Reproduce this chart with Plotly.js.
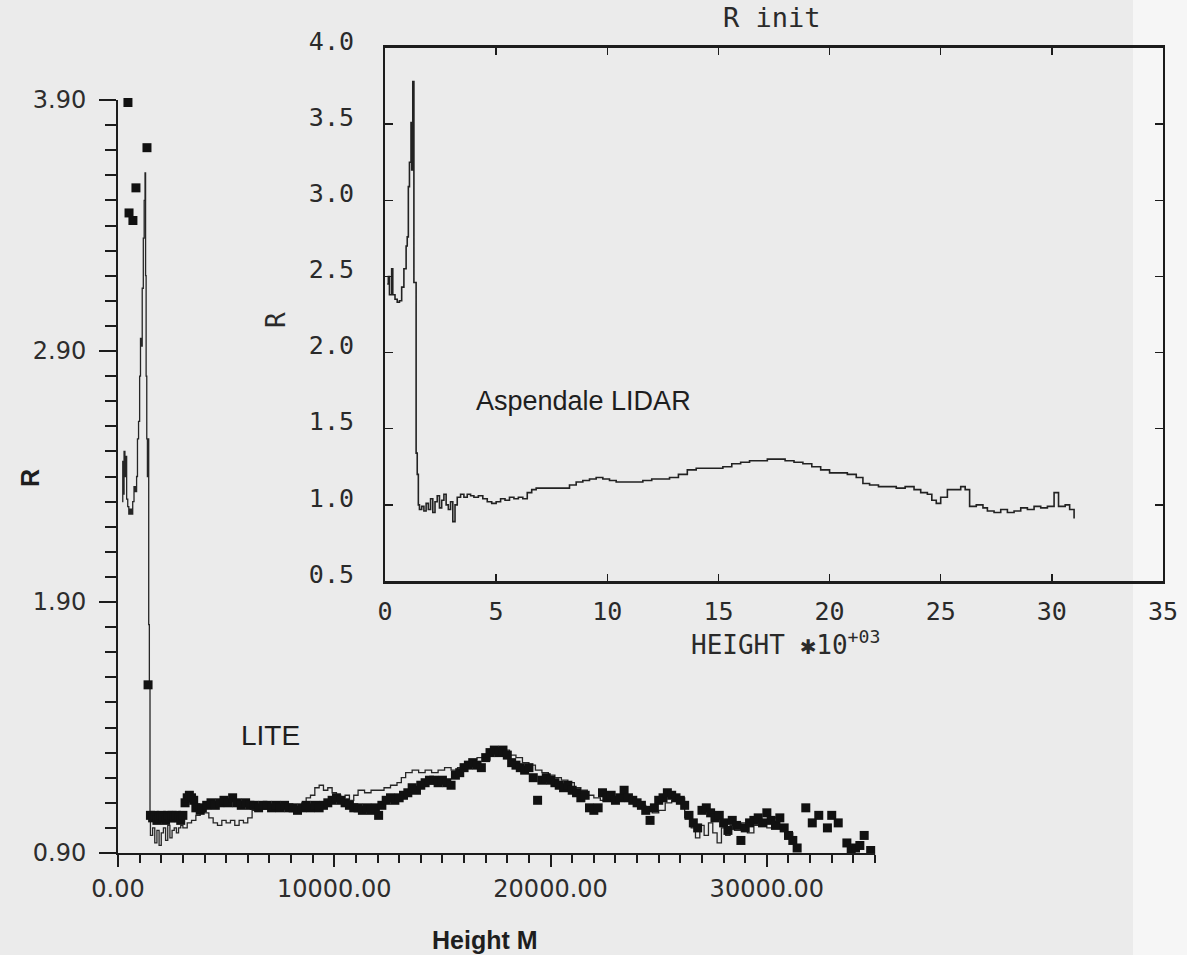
<!DOCTYPE html>
<html>
<head>
<meta charset="utf-8">
<script src="https://cdn.plot.ly/plotly-3.0.1.min.js"></script>
<style>html,body{margin:0;padding:0;background:#ebebeb;}#chart{width:1187px;height:955px;}</style>
</head>
<body>
<div id="chart"></div>
<script>
// ---------- Main chart (LITE vs LIDAR, height in metres) ----------
const mainLidarH = [190,220,250,280,320,360,400,450,500,560,620,680,740,800,860,900,950,1000,1040,1080,1120,1170,1210,1250,1275,1300,1330,1360,1390,1420,1450,1480,1500,
 1600,1700,1800,1900,2000,2100,2200,2300,2400,2500,2600,2700,2800,2900,3000,3200,3400,3600,3800,4000,4200,4400,4600,4800,5000,5200,5400,5600,5800,6000,
 6200,6400,6600,6800,7000,7300,7600,7900,8200,8500,8700,8900,9100,9300,9500,9700,9900,10100,10300,10500,10700,10900,11100,11400,11700,12000,12300,12600,12900,
 13100,13300,13600,13900,14200,14500,14800,15100,15400,15700,16000,16300,16600,16900,17200,17500,17800,18100,18400,18700,19000,19300,19600,19900,20200,20500,
 20800,21100,21400,21700,22000,22300,22600,22900,23200,23500,23800,24100,24400,24700,25000,25300,25600,25900,26200,26500,26700,26900,27100,27300,27500,27700,
 27900,28100,28300,28500,28800,29100,29400,29700,30000,30300,30600,30900,31200];
const mainLidarR = [2.30,2.46,2.33,2.50,2.40,2.48,2.31,2.28,2.25,2.27,2.25,2.30,2.36,2.34,2.40,2.55,2.62,2.80,2.95,2.92,3.15,3.35,3.50,3.61,3.20,2.80,2.55,2.40,2.55,1.81,1.57,1.06,0.97,
 1.00,0.94,0.99,0.93,0.98,1.00,0.95,1.01,0.96,0.99,1.00,0.98,1.00,1.01,1.00,1.02,1.03,1.05,1.07,1.06,1.04,1.02,1.01,1.03,1.02,1.03,1.01,1.03,1.02,1.04,
 1.07,1.08,1.08,1.09,1.08,1.09,1.08,1.09,1.08,1.10,1.12,1.13,1.16,1.17,1.15,1.16,1.14,1.13,1.12,1.13,1.11,1.13,1.15,1.14,1.15,1.15,1.16,1.17,1.18,
 1.20,1.22,1.23,1.22,1.23,1.22,1.23,1.24,1.23,1.24,1.25,1.27,1.28,1.27,1.30,1.32,1.31,1.29,1.28,1.26,1.25,1.23,1.22,1.21,1.20,1.19,
 1.18,1.16,1.15,1.13,1.12,1.11,1.12,1.11,1.12,1.11,1.10,1.09,1.08,1.06,1.07,1.10,1.11,1.12,1.04,1.00,0.96,1.01,0.97,1.02,0.98,0.94,
 1.00,0.97,1.01,0.99,1.02,0.98,1.01,1.03,1.00,1.04,1.01,0.98,0.95];

const liteH = [460,510,690,830,1100,1340,1390,
 1500,1600,1700,1800,1900,2000,2100,2200,2300,2400,2500,2600,2700,2800,2900,3000,3100,3200,3300,3400,3500,3600,3800,3900,4100,4300,4500,4700,4900,5100,5300,5500,
 5700,5900,6100,6300,6500,6700,6900,7100,7300,7500,7700,7900,8100,8300,8500,8700,8900,9100,9300,9500,9700,9900,10100,10300,10500,10700,10900,11100,11300,11500,
 11700,11900,12050,12200,12400,12600,12800,13000,13200,13400,13600,13800,14000,14200,14400,14600,14800,15000,15200,15400,15600,15800,16000,16200,16400,16600,
 16800,17000,17200,17400,17600,17800,18000,18200,18400,18600,18800,19000,19200,19400,19600,19800,20000,20200,20400,20600,20800,21000,21200,21400,21600,21800,
 22000,22200,22400,22600,22800,23000,23200,23400,23600,23800,24000,24200,24400,24600,24800,25000,25200,25400,25600,25800,26000,26200,26400,26600,26800,27000,
 27200,27400,27600,27800,28000,28200,28400,28600,28800,29000,29200,29400,29600,29800,30000,30200,30400,30600,30800,31000,31200,31400,31800,32100,32400,32800,
 33000,33300,33700,33900,34100,34300,34500,34800];
const liteR = [3.89,3.45,3.42,3.55,3.98,3.71,1.57,
 1.05,1.04,1.05,1.03,1.04,1.05,1.04,1.03,1.05,1.04,1.05,1.04,1.05,1.04,1.03,1.05,1.10,1.12,1.13,1.12,1.11,1.08,1.07,1.08,1.09,1.10,1.09,1.10,1.11,1.10,1.12,1.10,
 1.09,1.10,1.09,1.09,1.08,1.09,1.09,1.08,1.09,1.08,1.09,1.08,1.08,1.07,1.08,1.09,1.08,1.09,1.08,1.09,1.10,1.11,1.12,1.11,1.10,1.09,1.08,1.08,1.07,1.08,
 1.07,1.08,1.05,1.09,1.11,1.12,1.11,1.12,1.13,1.14,1.16,1.15,1.17,1.18,1.19,1.19,1.18,1.19,1.18,1.17,1.21,1.22,1.24,1.25,1.26,1.25,
 1.24,1.28,1.30,1.31,1.30,1.31,1.29,1.26,1.25,1.24,1.23,1.24,1.20,1.11,1.19,1.20,1.19,1.18,1.17,1.16,1.17,1.15,1.14,1.12,1.13,1.08,
 1.07,1.08,1.14,1.12,1.13,1.11,1.12,1.15,1.12,1.11,1.10,1.09,1.07,1.03,1.08,1.11,1.12,1.14,1.13,1.12,1.11,1.09,1.05,1.02,1.00,1.07,
 1.08,1.06,1.04,1.05,1.02,0.99,1.03,1.01,0.95,1.00,1.02,1.03,1.04,1.02,1.06,1.03,1.01,1.04,1.00,0.97,0.95,0.92,1.08,1.02,1.05,1.00,
 1.05,1.02,0.94,0.91,0.92,0.93,0.97,0.91];

const mainXTicks = [0,10000,20000,30000];
const mainYTicks = [0.90,1.90,2.90,3.90];

// ---------- Inset chart (Aspendale LIDAR, height in km) ----------
const insetKm = [0.10,0.15,0.20,0.30,0.35,0.45,0.55,0.65,0.75,0.85,0.95,1.00,1.05,1.10,1.17,1.20,1.25,1.30,1.35,1.40,1.45,1.50,
 1.55,1.65,1.75,1.85,1.95,2.05,2.15,2.25,2.35,2.45,2.55,2.65,2.75,2.85,2.95,3.05,3.15,3.25,3.40,3.55,3.70,3.85,4.00,4.20,4.40,4.60,4.80,5.00,
 5.20,5.40,5.60,5.80,6.00,6.20,6.40,6.60,6.80,7.20,7.60,8.00,8.30,8.60,8.90,9.20,9.50,9.80,10.10,10.40,10.80,11.20,11.60,12.00,12.40,12.80,
 13.20,13.60,14.00,14.40,14.80,15.20,15.60,16.00,16.40,16.80,17.20,17.60,18.00,18.40,18.80,19.20,19.60,20.00,20.40,20.80,21.20,21.50,21.80,
 22.20,22.60,23.00,23.40,23.80,24.10,24.40,24.60,24.80,25.00,25.30,25.60,25.90,26.10,26.30,26.60,26.90,27.10,27.40,27.70,28.00,28.30,28.60,
 28.90,29.20,29.50,29.80,30.10,30.30,30.60,30.80,31.00];
const insetR = [2.45,2.50,2.38,2.55,2.38,2.35,2.33,2.34,2.43,2.55,2.70,2.76,3.09,3.25,3.51,3.20,3.78,2.46,2.46,1.34,1.20,1.00,
 0.97,0.99,0.96,1.01,0.97,1.04,0.95,1.02,1.06,0.98,1.03,1.07,1.00,0.97,1.02,0.89,1.00,1.05,1.07,1.05,1.07,1.06,1.05,1.06,1.04,1.02,1.01,1.02,
 1.04,1.03,1.05,1.04,1.05,1.04,1.08,1.10,1.11,1.11,1.11,1.11,1.13,1.15,1.16,1.17,1.18,1.17,1.16,1.15,1.15,1.15,1.16,1.17,1.17,1.18,
 1.20,1.23,1.24,1.24,1.24,1.25,1.27,1.28,1.29,1.29,1.30,1.30,1.29,1.28,1.27,1.25,1.23,1.21,1.21,1.20,1.18,1.14,1.13,
 1.12,1.12,1.11,1.12,1.10,1.08,1.07,1.03,1.01,1.05,1.10,1.10,1.12,1.10,0.99,1.00,0.98,0.96,0.95,0.97,0.95,0.96,0.98,
 0.97,0.99,0.98,0.99,1.08,0.99,1.00,0.97,0.91];
const insetXTicks = [0,5,10,15,20,25,30,35];
const insetYTicks = [0.5,1.0,1.5,2.0,2.5,3.0,3.5,4.0];

// ---------- build ----------
const W = 1187, H = 955;
const px = v => v / W;
const py = v => 1 - v / H;
const ink = '#1c1c1c';
const mono = 'DejaVu Sans Mono, Liberation Mono, monospace';

const traces = [
  {x: mainLidarH, y: mainLidarR, xaxis: 'x', yaxis: 'y', type: 'scatter', mode: 'lines',
   line: {color: '#262626', width: 1.3, shape: 'hv'}, cliponaxis: false, hoverinfo: 'skip'},
  {x: liteH, y: liteR, xaxis: 'x', yaxis: 'y', type: 'scatter', mode: 'markers',
   marker: {color: '#111', size: 9, symbol: 'square'}, cliponaxis: false, hoverinfo: 'skip'},
  {x: insetKm, y: insetR, xaxis: 'x2', yaxis: 'y2', type: 'scatter', mode: 'lines',
   line: {color: '#222', width: 1.6, shape: 'hv'}, hoverinfo: 'skip'}
];

const ann = (text, x, y, font, extra) => Object.assign({
  text: text, xref: 'paper', yref: 'paper', x: px(x), y: py(y),
  xanchor: 'center', yanchor: 'middle', showarrow: false, font: font
}, extra || {});

const layout = {
  width: W, height: H,
  margin: {l: 0, r: 0, t: 0, b: 0},
  paper_bgcolor: '#ebebeb', plot_bgcolor: 'rgba(0,0,0,0)',
  showlegend: false,
  xaxis: {
    domain: [px(118), px(875)], range: [0, 35000], anchor: 'y', automargin: false,
    showline: true, linewidth: 2, linecolor: ink, showgrid: false, zeroline: false,
    tickmode: 'array', tickvals: mainXTicks, tickformat: '.2f',
    ticks: 'outside', ticklen: 12, tickwidth: 2, tickcolor: ink, ticklabelstandoff: 1,
    minor: {dtick: 1000, tick0: 0, ticks: 'outside', ticklen: 8, tickwidth: 2, tickcolor: ink},
    tickfont: {family: 'DejaVu Sans, sans-serif', size: 24, color: '#2d2d2d'}
  },
  yaxis: {
    domain: [py(853), py(100)], range: [0.9, 3.9], anchor: 'x', automargin: false,
    showline: true, linewidth: 2, linecolor: ink, showgrid: false, zeroline: false,
    tickmode: 'array', tickvals: mainYTicks, tickformat: '.2f',
    ticks: 'outside', ticklen: 17, tickwidth: 2, tickcolor: ink, ticklabelstandoff: 8,
    minor: {dtick: 0.1, tick0: 0.9, ticks: 'outside', ticklen: 11, tickwidth: 2, tickcolor: ink},
    tickfont: {family: 'DejaVu Sans, sans-serif', size: 24, color: '#2d2d2d'}
  },
  xaxis2: {
    domain: [px(385), px(1163)], range: [0, 35], anchor: 'y2', automargin: false,
    showline: true, linewidth: 3, linecolor: ink, mirror: 'ticks', showgrid: false, zeroline: false,
    tickmode: 'array', tickvals: insetXTicks,
    ticks: 'inside', ticklen: 7, tickwidth: 1.5, tickcolor: ink, ticklabelstandoff: 6,
    tickfont: {family: mono, size: 25, color: '#2a2a2a'}
  },
  yaxis2: {
    domain: [py(581), py(48)], range: [0.5, 4.0], anchor: 'x2', automargin: false,
    showline: true, linewidth: 2, linecolor: ink, mirror: 'ticks', showgrid: false, zeroline: false,
    tickmode: 'array', tickvals: insetYTicks, tickformat: '.1f',
    ticks: 'inside', ticklen: 8, tickwidth: 1.5, tickcolor: ink, ticklabelstandoff: 24, ticklabelshift: -7,
    tickfont: {family: mono, size: 25, color: '#2a2a2a'}
  },
  shapes: [
    {type: 'rect', xref: 'paper', yref: 'paper', x0: px(1133), x1: 1, y0: 0, y1: 1,
     fillcolor: '#f6f6f6', line: {width: 0}, layer: 'below'}
  ],
  annotations: [
    ann('R init', 772, 18, {family: mono, size: 27, color: '#2a2a2a'}),
    ann('HEIGHT ✱10<sup>+03</sup>', 785, 643, {family: mono, size: 26, color: '#2a2a2a'}),
    ann('R', 276, 320, {family: mono, size: 26, color: '#2a2a2a'}, {textangle: -90}),
    ann('Aspendale LIDAR', 583, 401, {family: 'Liberation Sans, Arial, sans-serif', size: 27, color: '#1e1e1e'}),
    ann('LITE', 270, 735, {family: 'Liberation Sans, Arial, sans-serif', size: 28, color: '#1e1e1e'}),
    ann('<b>Height M</b>', 485, 940, {family: 'Liberation Sans, Arial, sans-serif', size: 25, color: '#1e1e1e'}),
    ann('<b>R</b>', 30, 478, {family: 'Liberation Sans, Arial, sans-serif', size: 25, color: '#1e1e1e'}, {textangle: -90})
  ]
};

Plotly.newPlot('chart', traces, layout, {staticPlot: true, displayModeBar: false});
</script>
</body>
</html>
